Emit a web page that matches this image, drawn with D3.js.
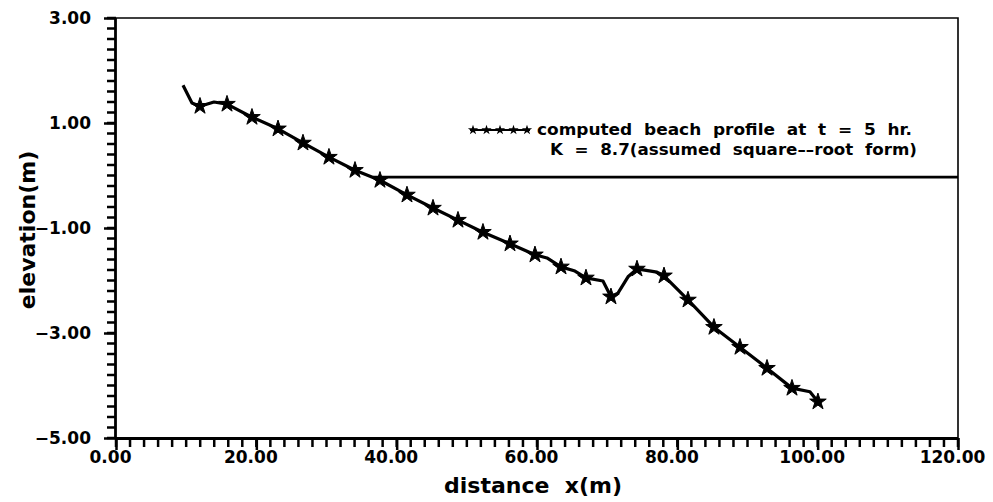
<!DOCTYPE html>
<html>
<head>
<meta charset="utf-8">
<script src="https://cdn.jsdelivr.net/npm/d3@7"></script>
<style>
  body { margin: 0; background: #fff; }
  svg { display: block; }
  text { font-family: "DejaVu Sans", Verdana, sans-serif; font-weight: bold; fill: #000; }
</style>
</head>
<body>
<div id="chart"></div>
<script>
// beach profile (distance in m, elevation in m)
var profileX = [9.55, 10.83, 11.97, 13.97, 15.82, 19.38, 23.09, 26.65, 30.35, 34.06, 37.62, 41.47,
  45.18, 48.74, 52.30, 56.15, 59.71, 61.42, 63.42, 65.41, 66.98, 69.40, 70.54, 71.54, 72.97,
  74.25, 77.10, 78.10, 81.52, 85.22, 88.93, 92.78, 96.34, 98.90, 100.04];
var profileY = [1.72, 1.38, 1.32, 1.40, 1.36, 1.11, 0.89, 0.62, 0.35, 0.10, -0.09, -0.37,
  -0.62, -0.85, -1.08, -1.30, -1.51, -1.57, -1.74, -1.82, -1.95, -2.01, -2.31, -2.24, -1.93,
  -1.78, -1.84, -1.91, -2.37, -2.89, -3.27, -3.67, -4.05, -4.12, -4.31];
// 1 = point carries a star marker
var profileMark = [0, 0, 1, 0, 1, 1, 1, 1, 1, 1, 1, 1,
  1, 1, 1, 1, 1, 0, 1, 0, 1, 0, 1, 0, 0,
  1, 0, 1, 1, 1, 1, 1, 1, 0, 1];

// still water level line
var waterX = [36.6, 120];
var waterY = [-0.03, -0.03];

// tick values and labels
var xTicks = [0, 20, 40, 60, 80, 100, 120];
var xTickLabels = ["0.00", "20.00", "40.00", "60.00", "80.00", "100.00", "120.00"];
var yTicks = [3, 1, -1, -3, -5];
var yTickLabels = ["3.00", "1.00", "\u22121.00", "\u22123.00", "\u22125.00"];

var legendLines = ["computed  beach  profile  at  t  =  5  hr.", "K  =  8.7(assumed  square\u2013\u2013root  form)"];

var svgWidth = 993;
var svgHeight = 502;

var chartMargin = { top: 18, right: 35, bottom: 64, left: 116 };
var chartWidth = svgWidth - chartMargin.left - chartMargin.right;
var chartHeight = svgHeight - chartMargin.top - chartMargin.bottom;

var svg = d3.select("#chart")
  .append("svg")
  .attr("width", svgWidth)
  .attr("height", svgHeight);

var chartGroup = svg.append("g")
  .attr("transform", `translate(${chartMargin.left}, ${chartMargin.top})`);

//scales
var xScale = d3.scaleLinear().domain([0, 120]).range([0, chartWidth]);
var yScale = d3.scaleLinear().domain([-5, 3]).range([chartHeight, 0]);

//top and right frame (thin, no ticks)
chartGroup.append("path")
  .attr("d", `M0,0 H${chartWidth} V${chartHeight}`)
  .attr("fill", "none")
  .attr("stroke", "#000")
  .attr("stroke-width", 1.6);

//minor ticks, every 2 m and every 0.2 m, drawn as one path each
var xMinorD = xScale.ticks(60).map(d => `M${xScale(d)},${chartHeight}v9`).join("");
var yMinorD = yScale.ticks(40).map(d => `M0,${yScale(d)}h-9`).join("");

chartGroup.append("path")
  .attr("d", xMinorD)
  .attr("fill", "none")
  .attr("stroke", "#000")
  .attr("stroke-width", 2.5);

chartGroup.append("path")
  .attr("d", yMinorD)
  .attr("fill", "none")
  .attr("stroke", "#000")
  .attr("stroke-width", 2.5);

//major ticks with labels
var xAxis = chartGroup.append("g")
  .attr("transform", `translate(0, ${chartHeight})`)
  .call(d3.axisBottom(xScale).tickValues(xTicks).tickSize(12).tickPadding(1)
    .tickFormat((d, i) => xTickLabels[i]));
var yAxis = chartGroup.append("g")
  .call(d3.axisLeft(yScale).tickValues(yTicks).tickSize(12).tickPadding(13)
    .tickFormat((d, i) => yTickLabels[i]));

[xAxis, yAxis].forEach(function(ax) {
  ax.selectAll(".tick line")
    .attr("stroke", "#000")
    .attr("stroke-width", 2.5);
});
xAxis.select(".domain").attr("d", `M0,0.5H${chartWidth}`).attr("stroke-width", 2.8);
yAxis.select(".domain").attr("d", `M-0.5,0V${chartHeight}`).attr("stroke-width", 2.8);

xAxis.selectAll(".tick text")
  .attr("font-size", "17px")
  .attr("dx", -6)
  .attr("fill", "#000");
yAxis.selectAll(".tick text")
  .attr("font-size", "17px")
  .attr("fill", "#000");

//still water line
var line = d3.line()
  .x(d => xScale(d[0]))
  .y(d => yScale(d[1]));

chartGroup.append("path")
  .datum(waterX.map((d, i) => [d, waterY[i]]))
  .attr("d", line)
  .attr("fill", "none")
  .attr("stroke", "#000")
  .attr("stroke-width", 2.8);

//profile line
var profileData = profileX.map((d, i) => [d, profileY[i], profileMark[i]]);

chartGroup.append("path")
  .datum(profileData)
  .attr("d", line)
  .attr("fill", "none")
  .attr("stroke", "#000")
  .attr("stroke-width", 3.2)
  .attr("stroke-linejoin", "round");

var star = d3.symbol().type(d3.symbolStar).size(85);

chartGroup.selectAll(".marker")
  .data(profileData.filter(d => d[2] === 1))
  .enter()
  .append("path")
  .attr("class", "marker")
  .attr("d", star)
  .attr("transform", d => `translate(${xScale(d[0])}, ${yScale(d[1])})`)
  .attr("fill", "#000")
  .attr("stroke", "#000")
  .attr("stroke-width", 1);

//legend
var legend = svg.append("g");
legend.append("line")
  .attr("x1", 470).attr("x2", 530)
  .attr("y1", 130).attr("y2", 130)
  .attr("stroke", "#000")
  .attr("stroke-width", 2);
legend.selectAll(".lmark")
  .data(d3.range(5))
  .enter()
  .append("path")
  .attr("class", "lmark")
  .attr("d", d3.symbol().type(d3.symbolStar).size(32))
  .attr("transform", d => `translate(${473 + d * 13.5}, 130)`)
  .attr("fill", "#000");

legend.append("text")
  .attr("x", 537).attr("y", 135)
  .attr("font-size", "15px")
  .attr("textLength", 375)
  .attr("lengthAdjust", "spacingAndGlyphs")
  .style("white-space", "pre")
  .text(legendLines[0]);
legend.append("text")
  .attr("x", 550).attr("y", 155)
  .attr("font-size", "15px")
  .attr("textLength", 367)
  .attr("lengthAdjust", "spacingAndGlyphs")
  .style("white-space", "pre")
  .text(legendLines[1]);

//axes titles
svg.append("text")
  .attr("x", 533).attr("y", 493)
  .attr("text-anchor", "middle")
  .attr("font-size", "22px")
  .style("white-space", "pre")
  .text("distance  x(m)");

svg.append("text")
  .attr("transform", "translate(35, 230) rotate(-90)")
  .attr("text-anchor", "middle")
  .attr("font-size", "22px")
  .text("elevation(m)");
</script>
</body>
</html>
